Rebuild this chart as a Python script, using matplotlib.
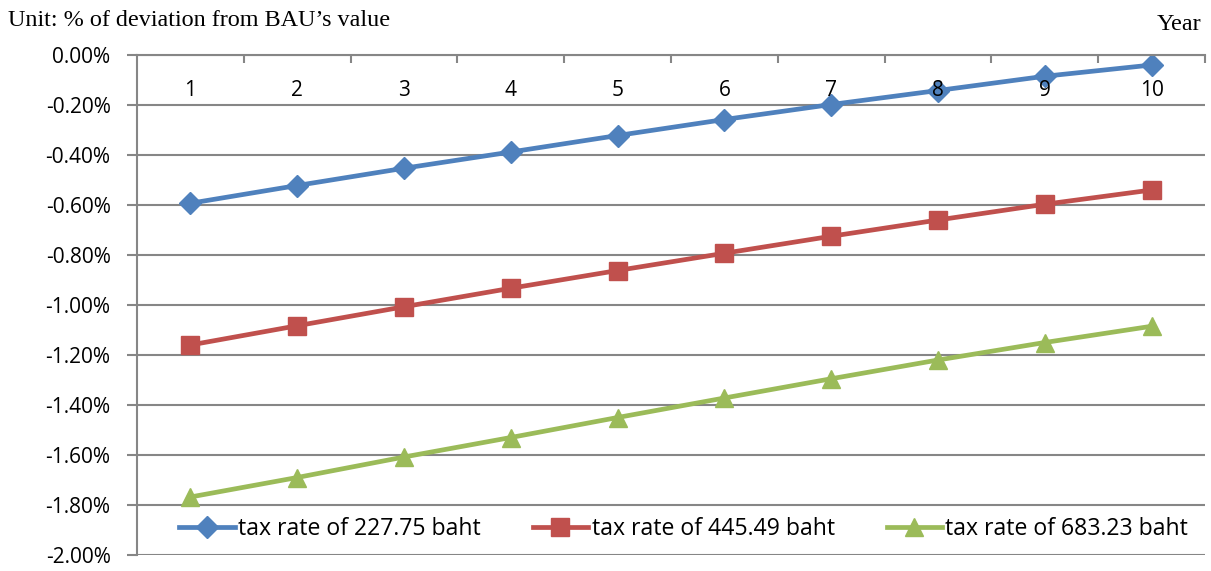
import numpy as np
import matplotlib.pyplot as plt
from matplotlib.ticker import FuncFormatter, FixedLocator

plt.rcParams['font.family'] = ['Open Sans', 'DejaVu Sans']

# Данные
years = [1, 2, 3, 4, 5, 6, 7, 8, 9, 10]
tax_227 = [-0.593, -0.522, -0.453, -0.388, -0.322, -0.258, -0.198, -0.142, -0.085, -0.040]
tax_445 = [-1.160, -1.083, -1.007, -0.933, -0.862, -0.793, -0.725, -0.660, -0.597, -0.540]
tax_683 = [-1.768, -1.690, -1.608, -1.530, -1.450, -1.372, -1.295, -1.220, -1.150, -1.085]
labels = ['tax rate of 227.75 baht', 'tax rate of 445.49 baht', 'tax rate of 683.23 baht']

fig = plt.figure(figsize=(12.11, 5.71), dpi=100)
ax = fig.add_axes([137/1211, 1 - 555/571, 1068/1211, 500/571])

grid_c = '#868686'
ax.plot(years, tax_227, color='#4F81BD', lw=3.4, marker='D', ms=11.5, label=labels[0])
ax.plot(years, tax_445, color='#C0504D', lw=3.4, marker='s', ms=12.5, label=labels[1])
ax.plot(years, tax_683, color='#9BBB59', lw=3.4, marker='^', ms=13.5, label=labels[2])

ax.set_xlim(0.5, 10.5)
ax.set_ylim(-2.0, 0.0)
ax.set_yticks(np.arange(-2.0, 0.01, 0.2))
ax.yaxis.set_major_formatter(FuncFormatter(lambda v, p: f'{abs(v):.2f}%' if abs(v) < 1e-9 else f'{v:.2f}%'))
ax.grid(axis='y', color=grid_c, lw=1.5)
ax.set_axisbelow(True)

# ось X сверху, подписи внутри, поверх линий
ax.xaxis.tick_top()
ax.set_xticks(years)
ax.set_xticklabels([str(y) for y in years])
ax.xaxis.set_minor_locator(FixedLocator(np.arange(1.5, 10.6, 1.0)))
ax.tick_params(axis='x', which='major', length=0, pad=-33, labelsize=15, top=True)
ax.tick_params(axis='x', which='minor', length=6, width=1.5, color=grid_c, direction='in', top=True, bottom=False)
ax.tick_params(axis='y', length=7, width=1.5, color=grid_c, labelsize=15, pad=12)
ax.xaxis.set_zorder(3)

for s in ['right', 'bottom']:
    ax.spines[s].set_visible(False)
ax.spines['top'].set_color(grid_c)
ax.spines['top'].set_linewidth(1.5)
ax.spines['left'].set_color(grid_c)
ax.spines['left'].set_linewidth(1.5)

ax.legend(loc='center', bbox_to_anchor=(0.512, 0.052), ncol=3, frameon=False,
          fontsize=16.6, handlelength=2.4, handletextpad=0.15, columnspacing=2.25)

fig.text(8/1211, 1 - 20/571, 'Unit: % of deviation from BAU\u2019s value', family='Liberation Serif',
         fontsize=17.4, va='center', ha='left')
fig.text(1201/1211, 1 - 24/571, 'Year', family='Liberation Serif', fontsize=17.4, va='center', ha='right')

fig.savefig('out.png', dpi=100)
